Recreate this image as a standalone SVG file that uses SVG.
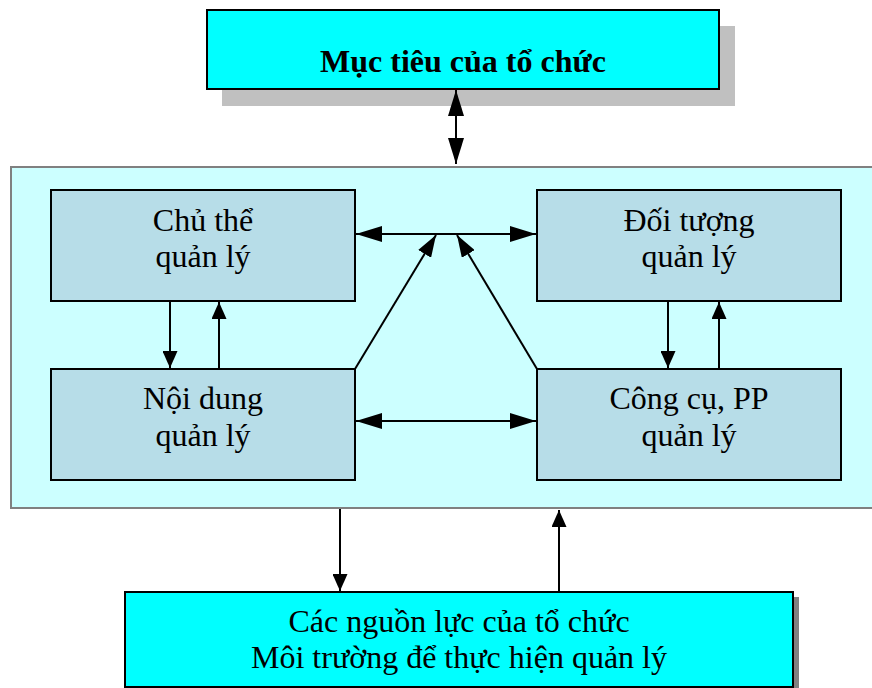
<svg xmlns="http://www.w3.org/2000/svg" width="872" height="688" viewBox="0 0 872 688">
  <style>
    .txt { font-family: "Liberation Serif", "Times New Roman", serif; font-size: 32px; fill: #000; text-anchor: middle; }
    .title { font-weight: bold; }
    .node { fill: #B7DDE8; stroke: #000; stroke-width: 2; }
    .cyan { fill: #00FFFF; stroke: #000; stroke-width: 2; }
    .link { stroke: #000; stroke-width: 2; fill: none; }
  </style>
  <defs>
    <marker id="headBig" markerUnits="userSpaceOnUse" markerWidth="26" markerHeight="16" refX="26" refY="8" orient="auto-start-reverse" viewBox="0 0 26 16">
      <path d="M0,0 L26,8 L0,16 Z" fill="#000"/>
    </marker>
    <marker id="headSmall" markerUnits="userSpaceOnUse" markerWidth="17" markerHeight="15" refX="17" refY="7.5" orient="auto-start-reverse" viewBox="0 0 17 15">
      <path d="M0,0 L17,7.5 L0,15 Z" fill="#000"/>
    </marker>
    <marker id="headMid" markerUnits="userSpaceOnUse" markerWidth="22" markerHeight="15" refX="22" refY="7.5" orient="auto" viewBox="0 0 22 15">
      <path d="M0,0 L22,7.5 L0,15 Z" fill="#000"/>
    </marker>
  </defs>

  <!-- organisation goal -->
  <g id="goal">
    <rect x="222" y="26" width="513" height="80" fill="#C0C0C0"/>
    <rect class="cyan" x="207" y="10" width="512" height="79"/>
    <text class="txt title" x="463" y="72">Mục tiêu của tổ chức</text>
  </g>

  <!-- management system panel -->
  <g id="system">
    <rect x="11" y="167" width="880" height="341" fill="#CCFFFF" stroke="#808080" stroke-width="2"/>
  </g>

  <g id="subject">
    <rect class="node" x="51" y="190" width="304" height="111"/>
    <text class="txt" x="203" y="231">Chủ thể</text>
    <text class="txt" x="203" y="267">quản lý</text>
  </g>

  <g id="object">
    <rect class="node" x="537" y="190" width="304" height="111"/>
    <text class="txt" x="689" y="231">Đối tượng</text>
    <text class="txt" x="689" y="267">quản lý</text>
  </g>

  <g id="content">
    <rect class="node" x="51" y="369" width="304" height="111"/>
    <text class="txt" x="203" y="409">Nội dung</text>
    <text class="txt" x="203" y="446">quản lý</text>
  </g>

  <g id="tools">
    <rect class="node" x="537" y="369" width="304" height="111"/>
    <text class="txt" x="689" y="409">Công cụ, PP</text>
    <text class="txt" x="689" y="446">quản lý</text>
  </g>

  <!-- resources and environment -->
  <g id="resources">
    <rect x="793" y="597" width="6" height="91" fill="#808080"/>
    <rect class="cyan" x="125" y="592" width="668" height="95"/>
    <text class="txt" x="459" y="632">Các nguồn lực của tổ chức</text>
    <text class="txt" x="459" y="668">Môi trường để thực hiện quản lý</text>
  </g>

  <g id="connectors">
    <!-- goal <-> system -->
    <line class="link" x1="456" y1="90" x2="456" y2="164" marker-start="url(#headBig)" marker-end="url(#headBig)"/>
    <!-- subject <-> object -->
    <line class="link" x1="356" y1="234" x2="536" y2="234" marker-start="url(#headBig)" marker-end="url(#headBig)"/>
    <!-- content <-> tools -->
    <line class="link" x1="356" y1="421" x2="536" y2="421" marker-start="url(#headBig)" marker-end="url(#headBig)"/>
    <!-- diagonals into the top link -->
    <line class="link" x1="355" y1="369" x2="436" y2="235" marker-end="url(#headMid)"/>
    <line class="link" x1="537" y1="369" x2="457" y2="235" marker-end="url(#headMid)"/>
    <!-- subject / content -->
    <line class="link" x1="170" y1="301" x2="170" y2="368" marker-end="url(#headSmall)"/>
    <line class="link" x1="219" y1="368" x2="219" y2="302" marker-end="url(#headSmall)"/>
    <!-- object / tools -->
    <line class="link" x1="668" y1="301" x2="668" y2="368" marker-end="url(#headSmall)"/>
    <line class="link" x1="719" y1="368" x2="719" y2="302" marker-end="url(#headSmall)"/>
    <!-- system / resources -->
    <line class="link" x1="340" y1="509" x2="340" y2="591" marker-end="url(#headSmall)"/>
    <line class="link" x1="559" y1="591" x2="559" y2="510" marker-end="url(#headSmall)"/>
  </g>
</svg>
